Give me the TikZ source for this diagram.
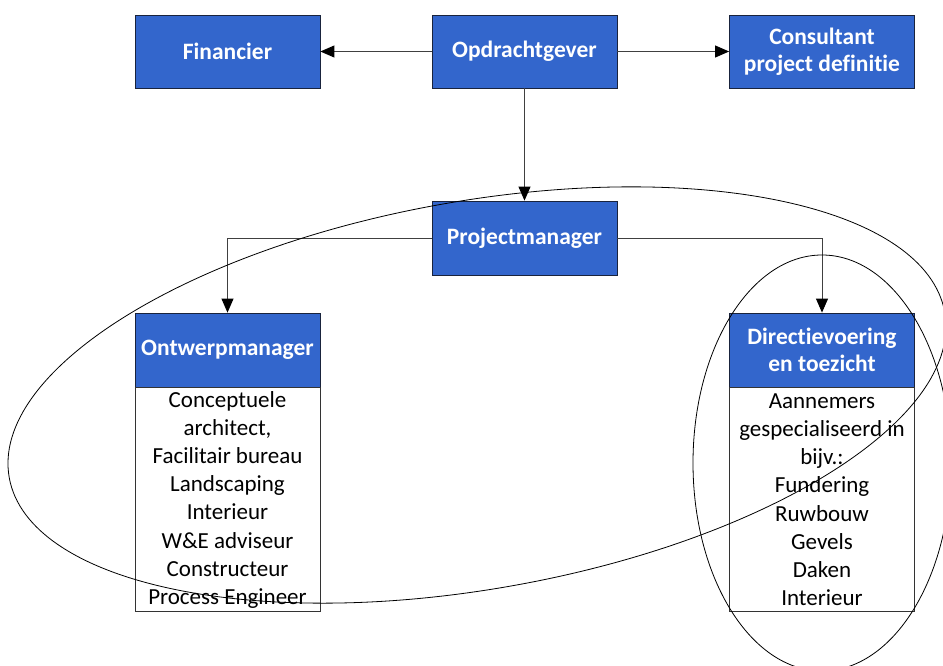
\documentclass[tikz,border=0pt]{standalone}
\usepackage{fontspec}
\setmainfont[Ligatures=NoCommon]{Carlito}
\usetikzlibrary{arrows.meta}
\definecolor{boxblue}{RGB}{51,102,204}
\definecolor{boxedge}{RGB}{25,35,60}

\begin{document}
\begin{tikzpicture}[x=1pt,y=-1pt,
  head/.style={draw=boxedge, fill=boxblue, text=white,
    font=\fontsize{23.5}{27.5}\selectfont\bfseries,
    minimum width=185pt, minimum height=74pt, inner sep=0pt,
    align=center, line width=0.8pt},
  body/.style={draw=black!80, fill=white,
    font=\fontsize{23}{28.2}\selectfont,
    minimum width=185pt, minimum height=224pt, inner sep=0pt,
    align=center, line width=0.8pt},
  link/.style={draw=black!75, line width=0.9pt,
    -{Triangle[length=14pt,width=12pt,color=black]}},
  ring/.style={draw=black, line width=0.8pt}]

\useasboundingbox (0,0) rectangle (943,666);
\clip (0,0) rectangle (943,666);

% top row
\node[head, minimum height=73pt] (fin) at (227.5,51.5) {Financier};
\node[head, minimum height=73pt] (opd) at (524.5,51.5) {Opdrachtgever};
\node[head, minimum height=73pt] (con) at (822,51.5) {Consultant\\project definitie};

% project manager
\node[head] (pm) at (524.5,238) {Projectmanager};

% design manager with its team
\node[head] (ow) at (227.5,350) {Ontwerpmanager};
\node[body, anchor=north] (owb) at (ow.south) {Conceptuele\\architect,\\Facilitair bureau\\Landscaping\\Interieur\\W\&E adviseur\\Constructeur\\Process Engineer};

% site supervision with its contractors
\node[head] (dt) at (822,350) {Directievoering\\en toezicht};
\node[body, anchor=north] (dtb) at (dt.south) {Aannemers\\gespecialiseerd in\\bijv.:\\Fundering\\Ruwbouw\\Gevels\\Daken\\Interieur};

% reporting lines
\draw[link] (opd) -- (fin);
\draw[link] (opd) -- (con);
\draw[link] (opd) -- (pm);
\draw[link] (pm.west) -| (ow.north);
\draw[link] (pm.east) -| (dt.north);

% groupings
\draw[ring, rotate around={10:(477,395)}] (477,395) ellipse [x radius=475pt, y radius=194pt];
\draw[ring] (822,463) ellipse [x radius=129pt, y radius=208pt];
\end{tikzpicture}
\end{document}
